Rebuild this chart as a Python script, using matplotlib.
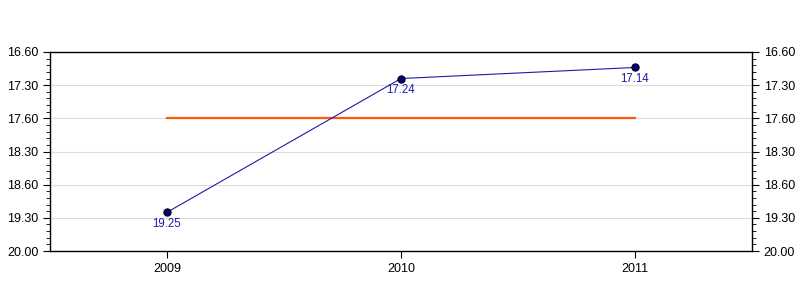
import matplotlib
matplotlib.use('Agg')
import numpy as np
import matplotlib.pyplot as plt
from matplotlib.ticker import MultipleLocator

plt.rcParams['font.family'] = ['Liberation Sans', 'DejaVu Sans']

# times as minutes.seconds, as printed on the chart
years = ['2009', '2010', '2011']
times = [19.25, 17.24, 17.14]
target = 17.60  # 18:00 written the same way as the axis
tick_labels = ['16.60', '17.30', '17.60', '18.30', '18.60', '19.30', '20.00']


def to_minutes(t):
    m = int(t)
    s = round((t - m) * 100)
    return m + s / 60.0


x = np.arange(len(years))
y = [to_minutes(t) for t in times]

fig = plt.figure(figsize=(8, 3), dpi=100)
ax = fig.add_axes([0.0625, 0.1633, 0.8775, 0.6634])

ax.plot([x[0], x[-1]], [to_minutes(target)] * 2, color='#ff5a0a', lw=1.6, zorder=2)
ax.plot(x, y, color='#1c1ca6', lw=0.8, marker='o', markersize=5.2,
        markerfacecolor='#000080', markeredgecolor='black', markeredgewidth=0.8, zorder=3)

for xi, yi, t in zip(x, y, times):
    ax.annotate('%.2f' % t, (xi, yi), xytext=(0, -4), textcoords='offset points',
                ha='center', va='top', fontsize=8.3, color='#1c1ca6')

ax.set_xlim(-0.5, 2.5)
ax.set_xticks(x)
ax.set_xticklabels(years)
ax.set_ylim(20.0, 17.0)
ax.set_yticks(np.arange(17.0, 20.01, 0.5))
ax.set_yticklabels(tick_labels)
ax.yaxis.set_minor_locator(MultipleLocator(0.1))

ax.grid(axis='y', color='#dcdcdc', lw=0.8)
ax.set_axisbelow(True)
ax.tick_params(axis='y', which='both', left=True, right=True, labelleft=True, labelright=True,
               direction='out', labelsize=9)
ax.tick_params(axis='y', which='major', length=5)
ax.tick_params(axis='y', which='minor', length=3)
ax.tick_params(axis='x', length=5, labelsize=9)
for s in ax.spines.values():
    s.set_linewidth(1)
    s.set_color('black')

plt.savefig('out.png')
